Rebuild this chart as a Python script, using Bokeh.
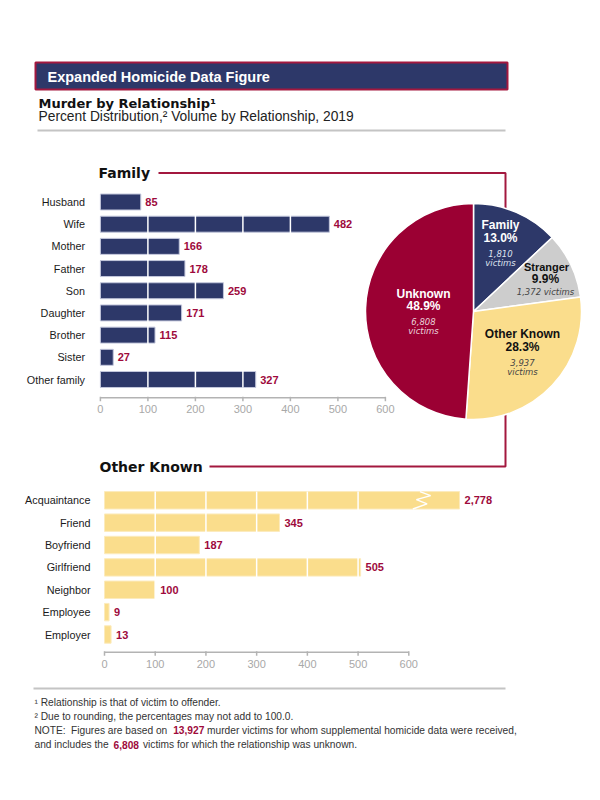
import math
from bokeh.plotting import figure
from bokeh.models import Range1d
from bokeh.core.properties import value
from bokeh.embed import file_html
from bokeh.resources import INLINE

# ---------------- data ----------------
family_cats = ["Husband", "Wife", "Mother", "Father", "Son", "Daughter", "Brother", "Sister", "Other family"]
family_vals = [85, 482, 166, 178, 259, 171, 115, 27, 327]
other_cats = ["Acquaintance", "Friend", "Boyfriend", "Girlfriend", "Neighbor", "Employee", "Employer"]
other_vals = [2778, 345, 187, 505, 100, 9, 13]
axis_ticks = [0, 100, 200, 300, 400, 500, 600]
grid_vals = [100, 200, 300, 400, 500]
pie_names = ["Family", "Stranger", "Other Known", "Unknown"]
pie_counts = [1810, 1372, 3937, 6808]
pie_pcts = [13.0, 9.9, 28.3, 48.9]
OTHER_CAP = 700  # broken-bar display cap for the Other Known chart

# ---------------- style ----------------
NAVY = "#2d3869"
YELLOW = "#fadd8c"
CRIMSON = "#9b0033"
LABEL_RED = "#9e0a3c"
GREY_W = "#cdcdcd"
SANS = "Liberation Sans"
WIDE = "DejaVu Sans"

W, H = 600, 800


def lin_range(v0, p0, v1, p1, n, vertical=False):
    b = (v1 - v0) / (p1 - p0)
    a = v0 - b * p0
    far = a + b * n
    return Range1d(start=far, end=a) if vertical else Range1d(start=a, end=far)


p = figure(width=W, height=H, x_range=Range1d(0, W), y_range=Range1d(H, 0),
           output_backend="svg", toolbar_location=None,
           x_axis_type=None, y_axis_type=None, min_border=0)
p.outline_line_color = None
p.background_fill_color = "white"
p.border_fill_color = "white"

p.extra_x_ranges = {
    "fx": lin_range(0, 99.9, 600, 384.9, W),
    "ox": lin_range(0, 104.0, 600, 408.3, W),
}
p.extra_y_ranges = {
    "fy": lin_range(0, 201.5, 8, 379.0, H, vertical=True),
    "oy": lin_range(0, 499.8, 6, 634.0, H, vertical=True),
}


def txt(x, y, s, size, color="#222222", font=SANS, style="normal", align="left",
        baseline="middle", xr="default", yr="default"):
    p.text(x=[x], y=[y], text=[s], text_font=value(font), text_font_size=f"{size}px",
           text_font_style=style, text_color=color, text_align=align,
           text_baseline=baseline, x_range_name=xr, y_range_name=yr)


# ---------------- header ----------------
p.quad(left=[35], right=[507], top=[62], bottom=[89], fill_color=NAVY,
       line_color="#a3183f", line_width=2)
txt(47, 76, "Expanded Homicide Data Figure", 14.5, color="white", style="bold")
txt(38, 102.5, "Murder by Relationship\u00b9", 13, color="#111111", font=WIDE, style="bold")
txt(38, 116, "Percent Distribution,\u00b2 Volume by Relationship, 2019", 13.8, color="#222222")
p.segment(x0=[37], y0=[130], x1=[505], y1=[130], line_color="#c4c4c4", line_width=2)

# ---------------- connectors ----------------
p.line(x=[158, 505, 505, 209], y=[172.5, 172.5, 466, 466], line_color="#a3183f", line_width=2)
txt(98, 172, "Family", 14, color="#111111", font=WIDE, style="bold")
txt(99, 466, "Other Known", 14, color="#111111", font=WIDE, style="bold")


# ---------------- bar sections ----------------
def bar_section(cats, vals, disp, xr, yr, color, edge, cat_off, height, ax_off, lab_off):
    n = len(cats)
    idx = list(range(n))
    half = height / 2
    p.hbar(y=idx, left=0, right=disp, height=height, fill_color=color, line_color=edge,
           line_width=1, x_range_name=xr, y_range_name=yr)
    p.segment(x0=grid_vals, x1=grid_vals, y0=[-half] * len(grid_vals),
              y1=[n - 1 + half] * len(grid_vals), line_color="white", line_width=1.5,
              x_range_name=xr, y_range_name=yr)
    # axis
    ay = n - 1 + ax_off
    p.segment(x0=[axis_ticks[0]], x1=[axis_ticks[-1]], y0=[ay], y1=[ay],
              line_color="#b3b3b3", line_width=1.5, x_range_name=xr, y_range_name=yr)
    p.segment(x0=axis_ticks, x1=axis_ticks, y0=[ay - 0.04] * len(axis_ticks),
              y1=[ay + 0.16] * len(axis_ticks), line_color="#b3b3b3", line_width=1.5,
              x_range_name=xr, y_range_name=yr)
    p.text(x=axis_ticks, y=[n - 1 + lab_off] * len(axis_ticks), text=[str(t) for t in axis_ticks],
           text_font=value(SANS), text_font_size="11px", text_color="#a8a8a8",
           text_align="center", text_baseline="middle", x_range_name=xr, y_range_name=yr)
    # category labels
    p.text(x=[0] * n, y=idx, text=cats, x_offset=cat_off, text_font=value(SANS),
           text_font_size="10.8px", text_color="#1a1a1a", text_align="right",
           text_baseline="middle", x_range_name=xr, y_range_name=yr)
    return idx


fidx = bar_section(family_cats, family_vals, family_vals, "fx", "fy", NAVY, "#c3c7dc",
                   -15.4, 0.72, 0.82, 1.33)
odisp = [min(v, OTHER_CAP) for v in other_vals]
oidx = bar_section(other_cats, other_vals, odisp, "ox", "oy", YELLOW, "#fcebbd",
                   -14, 0.78, 0.79, 1.30)

# broken-bar zigzag on the capped bar
BREAK_AT = 620
zig_dx = [2, 23, -5, 16, -12]
zig_dy = [-0.39, -0.21, -0.03, 0.16, 0.39]
for i, v in enumerate(other_vals):
    if v > OTHER_CAP:
        p.line(x=[BREAK_AT + d for d in zig_dx], y=[i + d for d in zig_dy],
               line_color="white", line_width=1.5, x_range_name="ox", y_range_name="oy")

# value labels
p.text(x=family_vals, y=fidx, text=[f"{v:,}" for v in family_vals], x_offset=4.5,
       text_font=value(SANS), text_font_style="bold", text_font_size="11px",
       text_color=LABEL_RED, text_align="left", text_baseline="middle",
       x_range_name="fx", y_range_name="fy")
p.text(x=odisp, y=oidx, text=[f"{v:,}" for v in other_vals], x_offset=5,
       text_font=value(SANS), text_font_style="bold", text_font_size="11px",
       text_color=LABEL_RED, text_align="left", text_baseline="middle",
       x_range_name="ox", y_range_name="oy")

# ---------------- pie ----------------
total = sum(pie_counts)
starts, ends = [], []
cum = 0
for c in pie_counts:
    starts.append(math.pi / 2 - 2 * math.pi * cum / total)
    cum += c
    ends.append(math.pi / 2 - 2 * math.pi * cum / total)
PCX, PCY, PR = 473, 311, 108
p.wedge(x=[PCX] * 4, y=[PCY] * 4, radius=PR, radius_units="screen",
        start_angle=starts, end_angle=ends, direction="clock",
        fill_color=[NAVY, GREY_W, YELLOW, CRIMSON], line_color="white", line_width=1.5)

# pie labels
txt(500, 224, pie_names[0], 12, color="white", style="bold", align="center")
txt(500, 237, f"{pie_pcts[0]:.1f}%", 12, color="white", style="bold", align="center")
txt(500, 253, f"{pie_counts[0]:,}", 8.5, color="#dfe2ee", font=WIDE, style="italic", align="center")
txt(500, 262, "victims", 8.5, color="#dfe2ee", font=WIDE, style="italic", align="center")

txt(546, 266, pie_names[1], 11, color="#111111", style="bold", align="center")
txt(545, 278, f"{pie_pcts[1]:.1f}%", 12, color="#111111", style="bold", align="center")
txt(545, 291, f"{pie_counts[1]:,} victims", 8.5, color="#444444", font=WIDE, style="italic", align="center")

txt(423, 293, pie_names[3], 12, color="white", style="bold", align="center")
txt(423, 305, f"{pie_pcts[3]:.1f}%", 12, color="white", style="bold", align="center")
txt(423, 321, f"{pie_counts[3]:,}", 8.5, color="#ead4dc", font=WIDE, style="italic", align="center")
txt(423, 330, "victims", 8.5, color="#ead4dc", font=WIDE, style="italic", align="center")

txt(522, 333, pie_names[2], 12, color="#111111", style="bold", align="center")
txt(522, 346, f"{pie_pcts[2]:.1f}%", 12, color="#111111", style="bold", align="center")
txt(522, 362, f"{pie_counts[2]:,}", 8.5, color="#444444", font=WIDE, style="italic", align="center")
txt(522, 371, "victims", 8.5, color="#444444", font=WIDE, style="italic", align="center")

# ---------------- footnotes ----------------
p.segment(x0=[33], y0=[688], x1=[505], y1=[688], line_color="#c4c4c4", line_width=2)
FN = 10.2
FC = "#333333"
txt(34, 702, "\u00b9 Relationship is that of victim to offender.", FN, color=FC)
txt(34, 716, "\u00b2 Due to rounding, the percentages may not add to 100.0.", FN, color=FC)
txt(34, 729.5, "NOTE:", FN, color=FC)
txt(70.5, 729.5, "Figures are based on", FN, color=FC)
txt(172.7, 729.5, f"{total:,}", FN, color=LABEL_RED, style="bold")
txt(206.5, 729.5, "murder victims for whom supplemental homicide data were received,", FN, color=FC)
txt(34, 744, "and includes the", FN, color=FC)
txt(113, 744, f"{pie_counts[3]:,}", FN, color=LABEL_RED, style="bold")
txt(142.5, 744, "victims for which the relationship was unknown.", FN, color=FC)

open("out.html", "w").write(file_html(p, INLINE, "Murder by Relationship"))
